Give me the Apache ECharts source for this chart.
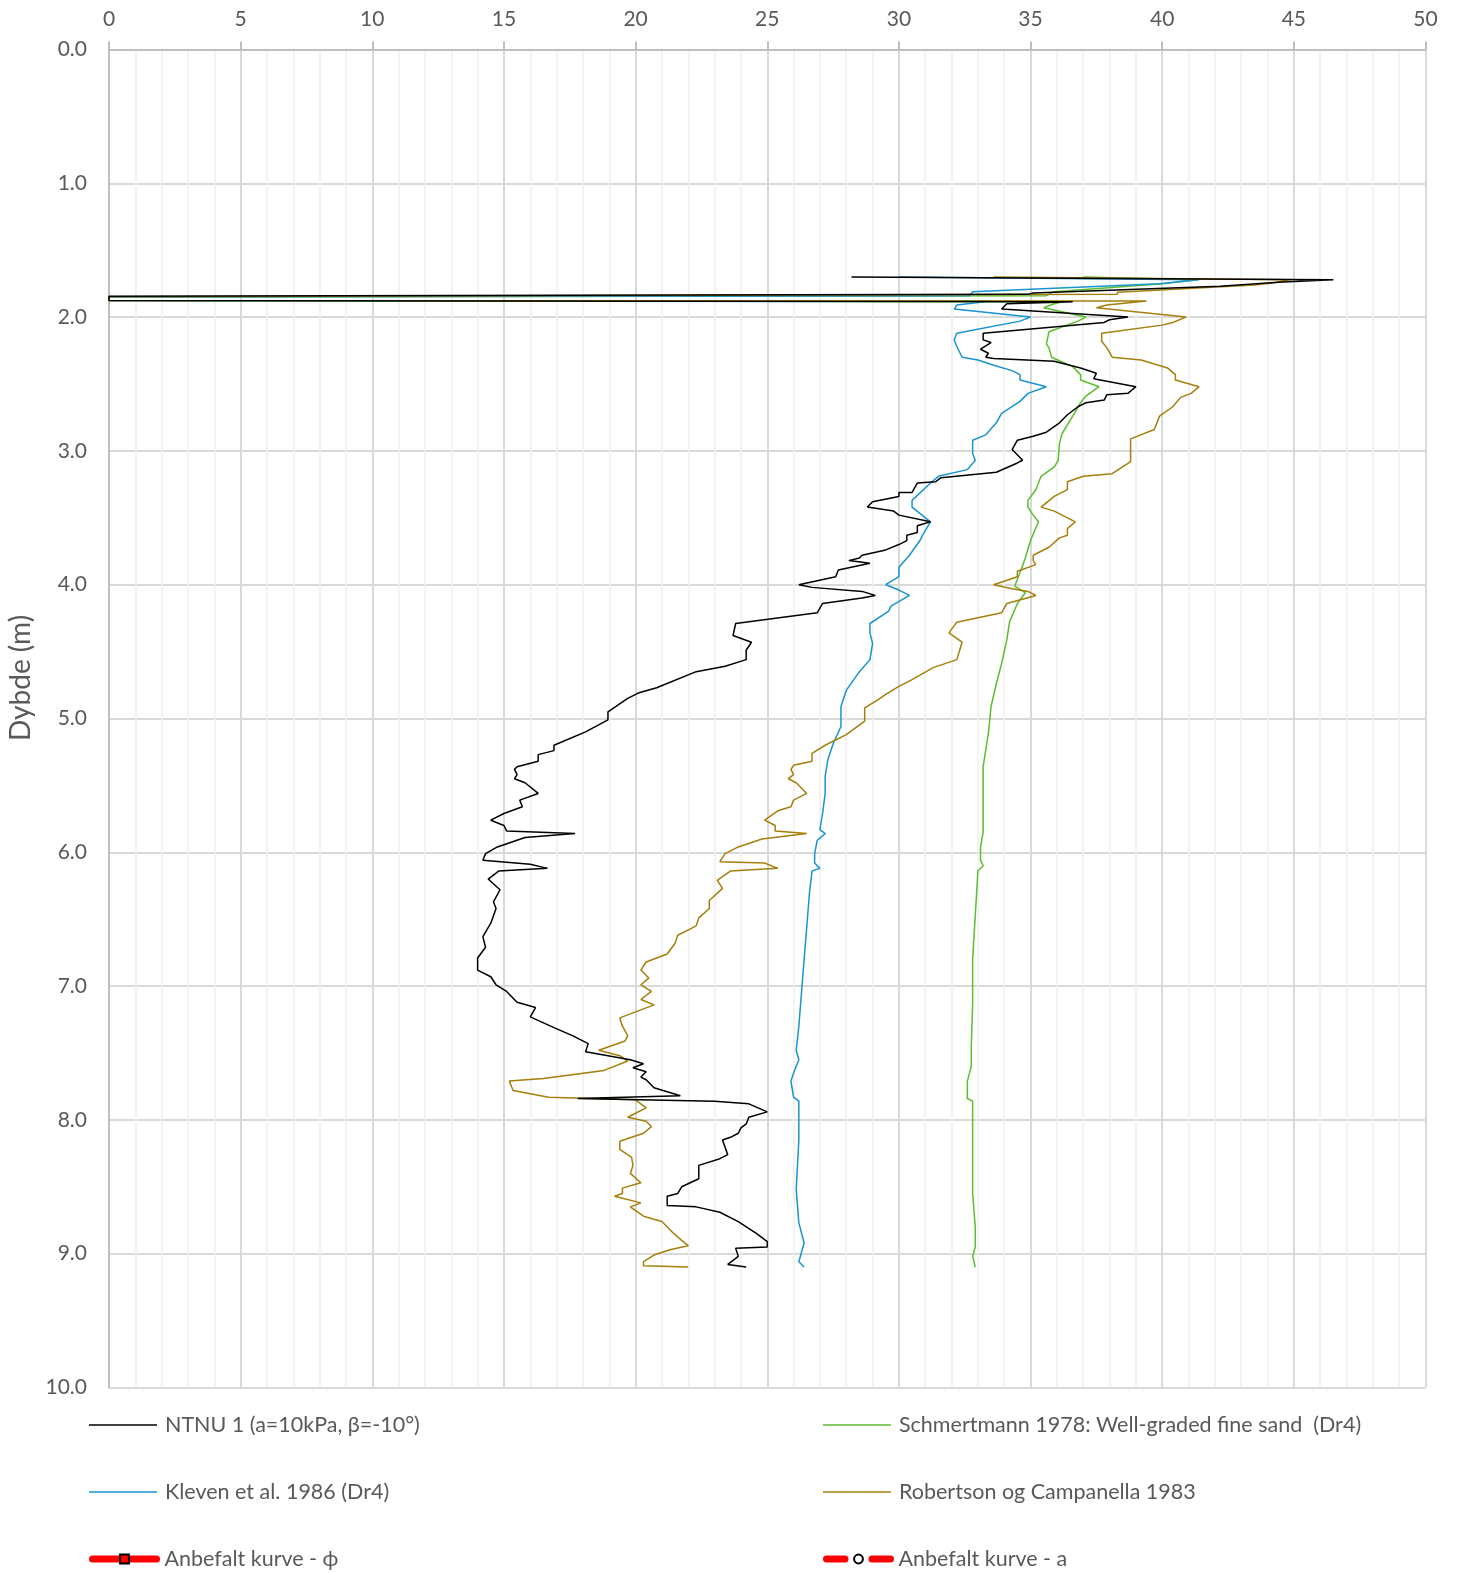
<!DOCTYPE html>
<html>
<head>
<meta charset="utf-8">
<script src="https://cdn.jsdelivr.net/npm/echarts@6/dist/echarts.min.js"></script>
<style>
html,body{margin:0;padding:0;background:#fff;}
#chart{width:1457px;height:1573px;}
</style>
</head>
<body>
<div id="chart"></div>
<script>
// Series names
var names = [
  'NTNU 1 (a=10kPa, β=-10°)',
  'Schmertmann 1978: Well-graded fine sand  (Dr4)',
  'Kleven et al. 1986 (Dr4)',
  'Robertson og Campanella 1983',
  'Anbefalt kurve - ϕ',
  'Anbefalt kurve - a'
];
var yAxisTitle = 'Dybde (m)';

// Axis ticks
var xTicks = [0, 5, 10, 15, 20, 25, 30, 35, 40, 45, 50];
var yTicks = [0, 1, 2, 3, 4, 5, 6, 7, 8, 9, 10];

// [value, depth (m)] pairs
var ntnu = [[28.2,1.70],[46.5,1.72],[44.4,1.74],[42.2,1.77],[35.1,1.82],[34.9,1.83],[0,1.845],[0,1.875],[36.6,1.885],[34.1,1.90],[33.9,1.94],[38.7,2.00],[38.0,2.02],[37.8,2.04],[33.2,2.12],[33.2,2.17],[33.5,2.19],[33.1,2.24],[33.4,2.27],[33.3,2.30],[33.6,2.31],[35.9,2.33],[36.9,2.38],[37.5,2.42],[37.4,2.46],[39.0,2.52],[38.7,2.57],[37.9,2.58],[37.8,2.62],[37.1,2.64],[36.8,2.67],[36.4,2.73],[36.1,2.79],[35.6,2.86],[35.1,2.89],[34.5,2.92],[34.3,2.99],[34.7,3.07],[34.5,3.09],[33.7,3.16],[31.6,3.20],[31.4,3.23],[30.7,3.24],[30.5,3.31],[30.0,3.31],[30.0,3.34],[29.0,3.38],[28.8,3.42],[29.8,3.45],[30.0,3.48],[31.2,3.53],[30.7,3.56],[30.7,3.61],[30.3,3.63],[30.3,3.67],[30.0,3.70],[29.5,3.74],[28.6,3.78],[28.5,3.80],[28.1,3.82],[28.9,3.84],[27.7,3.89],[27.6,3.94],[26.2,4.00],[26.7,4.02],[28.6,4.05],[29.1,4.08],[28.6,4.10],[27.1,4.14],[26.9,4.21],[23.8,4.29],[23.7,4.38],[24.4,4.43],[24.2,4.49],[24.2,4.56],[23.4,4.61],[22.3,4.65],[20.8,4.77],[20.1,4.81],[19.7,4.85],[18.95,4.95],[18.95,5.01],[18.1,5.10],[16.9,5.20],[16.9,5.24],[16.3,5.27],[16.3,5.32],[15.5,5.36],[15.4,5.38],[15.5,5.42],[15.4,5.45],[15.8,5.48],[16.3,5.56],[15.6,5.61],[15.7,5.66],[15.0,5.71],[14.5,5.76],[15.0,5.80],[15.1,5.84],[17.7,5.86],[15.8,5.89],[14.75,5.96],[14.3,6.01],[14.2,6.06],[16.0,6.09],[16.65,6.12],[14.8,6.14],[14.4,6.20],[14.85,6.28],[14.6,6.37],[14.7,6.42],[14.5,6.53],[14.2,6.63],[14.3,6.71],[14.0,6.79],[14.0,6.88],[14.5,6.93],[14.7,6.99],[15.1,7.04],[15.5,7.12],[16.2,7.16],[16.0,7.23],[16.9,7.31],[17.6,7.37],[18.2,7.43],[18.1,7.49],[19.8,7.55],[20.3,7.58],[19.9,7.61],[20.4,7.64],[20.2,7.68],[20.4,7.70],[20.7,7.76],[21.7,7.82],[17.8,7.84],[23.0,7.86],[24.3,7.88],[25.0,7.94],[24.3,7.98],[24.2,8.03],[24.0,8.06],[23.9,8.10],[23.6,8.13],[23.3,8.15],[23.5,8.26],[23.2,8.29],[22.4,8.34],[22.4,8.44],[21.75,8.50],[21.6,8.55],[21.2,8.57],[21.2,8.64],[22.3,8.65],[23.2,8.69],[23.9,8.76],[24.6,8.85],[25.0,8.91],[25.0,8.95],[23.8,8.96],[23.9,9.02],[23.5,9.08],[24.2,9.10]];

var schmertmann = [[37.0,1.70],[41.3,1.72],[40.0,1.75],[35.9,1.81],[35.6,1.84],[0,1.85],[0,1.875],[36.2,1.885],[35.9,1.90],[35.5,1.93],[37.1,2.00],[36.8,2.03],[35.7,2.11],[35.6,2.20],[35.7,2.23],[35.8,2.30],[36.6,2.37],[36.9,2.43],[36.9,2.47],[37.6,2.52],[37.1,2.59],[36.9,2.64],[36.6,2.74],[36.2,2.87],[36.1,2.94],[36.05,3.07],[35.9,3.12],[35.4,3.19],[35.2,3.29],[34.9,3.37],[34.9,3.42],[35.1,3.48],[35.3,3.53],[35.0,3.67],[34.8,3.80],[34.6,3.91],[34.4,4.01],[34.8,4.06],[34.5,4.14],[34.2,4.28],[34.1,4.41],[33.9,4.59],[33.7,4.74],[33.5,4.91],[33.4,5.11],[33.2,5.36],[33.2,5.61],[33.2,5.85],[33.1,5.96],[33.1,6.06],[33.2,6.10],[33.0,6.14],[32.95,6.31],[32.8,6.80],[32.8,7.13],[32.75,7.45],[32.75,7.60],[32.6,7.71],[32.6,7.84],[32.8,7.86],[32.8,8.06],[32.8,8.55],[32.9,8.80],[32.9,8.95],[32.8,9.02],[32.9,9.10]];

var kleven = [[30.0,1.70],[41.4,1.72],[39.9,1.75],[32.8,1.81],[32.7,1.84],[0,1.85],[0,1.875],[33.5,1.88],[32.2,1.91],[32.1,1.94],[35.0,2.00],[34.6,2.03],[32.2,2.12],[32.1,2.17],[32.2,2.22],[32.4,2.30],[33.0,2.32],[33.6,2.36],[34.3,2.40],[34.6,2.43],[34.6,2.47],[35.6,2.52],[34.9,2.57],[34.6,2.63],[33.9,2.72],[33.7,2.79],[33.3,2.88],[32.8,2.92],[32.8,2.99],[32.8,3.02],[32.9,3.07],[32.6,3.14],[31.5,3.19],[31.2,3.24],[30.5,3.37],[30.5,3.42],[31.2,3.53],[30.9,3.63],[30.8,3.67],[30.4,3.78],[30.0,3.87],[30.0,3.94],[29.5,4.00],[30.0,4.04],[30.4,4.08],[29.7,4.16],[29.6,4.20],[28.9,4.29],[28.9,4.36],[29.0,4.44],[28.9,4.56],[28.5,4.65],[28.0,4.79],[27.8,4.91],[27.8,5.06],[27.5,5.19],[27.3,5.31],[27.2,5.43],[27.2,5.56],[27.1,5.71],[27.0,5.83],[27.2,5.86],[26.9,5.91],[26.8,6.01],[26.8,6.08],[27.0,6.12],[26.7,6.14],[26.6,6.31],[26.5,6.56],[26.4,6.80],[26.3,7.05],[26.2,7.30],[26.1,7.48],[26.2,7.55],[26.0,7.65],[25.9,7.71],[26.0,7.83],[26.2,7.86],[26.2,8.15],[26.1,8.52],[26.2,8.77],[26.4,8.92],[26.2,9.06],[26.4,9.10]];

var robertson = [[33.6,1.70],[44.9,1.72],[44.2,1.745],[43.5,1.76],[38.3,1.815],[38.3,1.83],[0,1.847],[0,1.875],[39.4,1.88],[37.9,1.91],[37.5,1.93],[40.9,2.00],[40.4,2.04],[40.0,2.06],[37.7,2.12],[37.7,2.18],[37.9,2.23],[38.1,2.30],[39.2,2.32],[40.2,2.38],[40.5,2.43],[40.5,2.47],[41.4,2.52],[41.1,2.57],[40.7,2.60],[40.4,2.67],[39.9,2.74],[39.7,2.84],[38.8,2.91],[38.8,2.94],[38.8,3.08],[38.1,3.17],[37.0,3.19],[36.4,3.23],[36.4,3.29],[35.9,3.34],[35.4,3.42],[35.9,3.45],[36.7,3.53],[36.4,3.58],[36.4,3.63],[36.1,3.65],[35.7,3.72],[35.1,3.78],[35.1,3.82],[35.2,3.85],[34.5,3.90],[34.5,3.94],[33.6,4.00],[34.3,4.03],[34.9,4.05],[35.2,4.08],[34.1,4.14],[33.9,4.21],[32.2,4.28],[31.9,4.36],[32.4,4.43],[32.2,4.56],[31.3,4.62],[30.5,4.71],[30.0,4.76],[29.5,4.82],[29.2,4.86],[28.7,4.92],[28.7,5.02],[28.0,5.12],[27.2,5.20],[26.7,5.26],[26.7,5.32],[26.0,5.35],[25.9,5.38],[26.0,5.42],[25.8,5.45],[26.1,5.48],[26.5,5.56],[26.0,5.61],[25.9,5.66],[25.4,5.69],[24.9,5.76],[25.3,5.80],[25.3,5.84],[26.5,5.86],[24.8,5.90],[23.9,5.96],[23.4,6.01],[23.2,6.07],[24.9,6.08],[25.4,6.12],[23.6,6.14],[23.1,6.21],[23.3,6.27],[22.8,6.36],[22.8,6.42],[22.4,6.49],[22.3,6.55],[22.1,6.57],[21.6,6.62],[21.5,6.68],[21.2,6.76],[20.4,6.82],[20.2,6.88],[20.5,6.94],[20.2,6.99],[20.6,7.04],[20.2,7.10],[20.7,7.14],[19.5,7.23],[19.4,7.24],[19.5,7.30],[19.7,7.37],[19.6,7.41],[18.6,7.48],[19.4,7.52],[19.7,7.56],[18.8,7.63],[16.5,7.69],[15.2,7.71],[15.35,7.78],[16.7,7.83],[20.0,7.85],[20.4,7.91],[19.7,7.98],[20.4,8.01],[20.6,8.05],[20.3,8.10],[19.4,8.16],[19.4,8.22],[19.85,8.28],[19.9,8.34],[19.8,8.40],[20.2,8.47],[19.5,8.51],[19.5,8.55],[19.2,8.57],[20.2,8.62],[19.8,8.65],[20.3,8.72],[21.0,8.76],[21.4,8.84],[21.75,8.90],[22.0,8.94],[21.3,8.97],[20.7,9.01],[20.3,9.06],[20.3,9.09],[22.0,9.10]];

// Recommended curves (no points shown in the reference)
var anbefaltPhi = [];
var anbefaltA = [];

var FONT = 'Lato, "Open Sans", sans-serif';
var GRAY = '#595959';
var COLORS = ['#000000', '#5cbd2e', '#1894d0', '#a57f0c', '#ff0000', '#ff0000'];

function legendAt(i, left, top) {
  var base = {
    data: [names[i]], left: left, top: top, orient: 'horizontal', padding: 0,
    itemWidth: 68, selectedMode: false,
    textStyle: { fontFamily: FONT, fontSize: 21.5, color: GRAY, padding: [0,0,0,3] }
  };
  if (i < 4) {
    base.icon = 'rect';
    base.itemHeight = 1.5;
  } else {
    base.itemHeight = 11;
    base.itemWidth = 64;
    base.lineStyle = { color: '#ff0000', width: 7, cap: 'round', type: i === 5 ? [18.5, 27] : 'solid' };
  }
  return base;
}

var chart = echarts.init(document.getElementById('chart'), null, { renderer: 'canvas' });
chart.setOption({
  animation: false,
  backgroundColor: '#ffffff',
  grid: { left: 109, top: 49.5, right: 31.5, bottom: 185.5, containLabel: false },
  legend: [
    legendAt(0, 89, 1414),
    legendAt(1, 823, 1414),
    legendAt(2, 89, 1481),
    legendAt(3, 823, 1481),
    legendAt(4, 89, 1548),
    legendAt(5, 823, 1548)
  ],
  graphic: [{
    type: 'text', x: 21, y: 678, rotation: Math.PI / 2,
    style: { text: yAxisTitle, fontFamily: FONT, fontSize: 28, fill: GRAY,
      align: 'center', verticalAlign: 'middle' }
  }],
  xAxis: {
    type: 'value', position: 'top', min: xTicks[0], max: xTicks[xTicks.length - 1], interval: 5,
    axisLine: { show: true, lineStyle: { color: '#bfbfbf', width: 2 } },
    axisTick: { show: true, length: 8, lineStyle: { color: '#bfbfbf', width: 2 } },
    minorTick: { show: false, splitNumber: 5 },
    axisLabel: { margin: 20, fontFamily: FONT, fontSize: 21, color: GRAY },
    splitLine: { show: true, lineStyle: { color: '#d9d9d9', width: 2 } },
    minorSplitLine: { show: true, lineStyle: { color: '#f0f0f0', width: 1.5 } }
  },
  yAxis: {
    type: 'value', inverse: true, min: yTicks[0], max: yTicks[yTicks.length - 1], interval: 1,
    axisLine: { show: true, lineStyle: { color: '#bfbfbf', width: 2 } },
    axisTick: { show: false },
    axisLabel: { margin: 22, fontFamily: FONT, fontSize: 21, color: GRAY,
      formatter: function (v) { return v.toFixed(1); } },
    splitLine: { show: true, lineStyle: { color: '#d9d9d9', width: 2 } }
  },
  series: [
    { name: names[0], type: 'line', data: ntnu, symbol: 'none', z: 5,
      lineStyle: { color: COLORS[0], width: 1.5 }, itemStyle: { color: COLORS[0] } },
    { name: names[1], type: 'line', data: schmertmann, symbol: 'none', z: 3,
      lineStyle: { color: COLORS[1], width: 1.5 }, itemStyle: { color: COLORS[1] } },
    { name: names[2], type: 'line', data: kleven, symbol: 'none', z: 4,
      lineStyle: { color: COLORS[2], width: 1.5 }, itemStyle: { color: COLORS[2] } },
    { name: names[3], type: 'line', data: robertson, symbol: 'none', z: 4,
      lineStyle: { color: COLORS[3], width: 1.5 }, itemStyle: { color: COLORS[3] } },
    { name: names[4], type: 'line', data: anbefaltPhi, symbol: 'rect', symbolSize: 9,
      lineStyle: { color: COLORS[4], width: 7, cap: 'round' },
      itemStyle: { color: '#ff0000', borderColor: '#000000', borderWidth: 2 } },
    { name: names[5], type: 'line', data: anbefaltA, symbol: 'circle', symbolSize: 8,
      lineStyle: { color: COLORS[5], width: 7, cap: 'round', type: [18.5, 27] },
      itemStyle: { color: '#ffffff', borderColor: '#000000', borderWidth: 2 } }
  ]
});
</script>
</body>
</html>
